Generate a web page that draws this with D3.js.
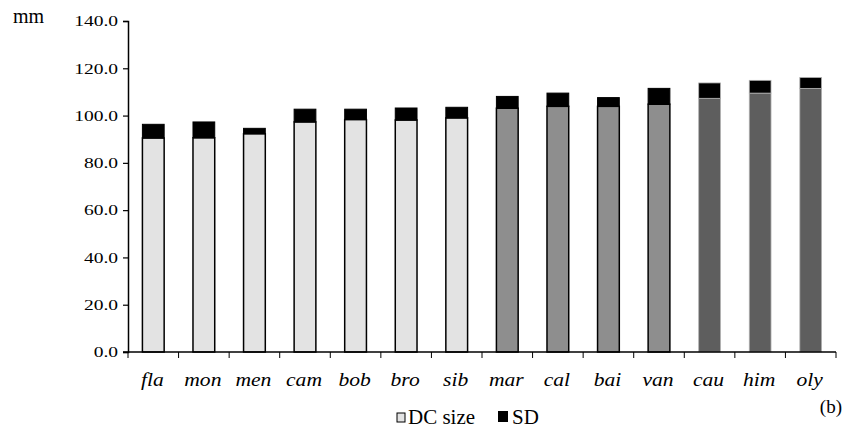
<!DOCTYPE html>
<html>
<head>
<meta charset="utf-8">
<script src="https://cdn.jsdelivr.net/npm/d3@7/dist/d3.min.js"></script>
<style>
  html, body { margin: 0; padding: 0; background: #fff; }
  svg { display: block; }
</style>
</head>
<body>
<svg id="chart" width="861" height="428"></svg>
<script>
const categories = ["fla", "mon", "men", "cam", "bob", "bro", "sib", "mar", "cal", "bai", "van", "cau", "him", "oly"];
const dcSize = [90.5, 90.6, 92.3, 97.3, 98.3, 98.1, 99.0, 103.1, 103.9, 103.9, 104.8, 107.3, 109.5, 111.5];
const sd = [5.8, 6.7, 2.3, 5.4, 4.4, 5.1, 4.5, 5.0, 5.6, 3.7, 6.7, 6.5, 5.4, 4.6];
const groupOf = [0, 0, 0, 0, 0, 0, 0, 1, 1, 1, 1, 2, 2, 2];
const yTicks = [0, 20, 40, 60, 80, 100, 120, 140];
const legendLabels = ["DC size", "SD"];

const FONT = "Liberation Serif";
const groupFill = ["#e3e3e3", "#8e8e8e", "#5e5e5e"];
const groupStroke = ["#000", "#000", "#b0b0b0"];

const svg = d3.select("#chart");

const y = d3.scaleLinear().domain([0, 140]).range([352, 21]);
const x = d3.scaleBand().domain(categories).range([128, 836]).paddingInner(0.57).paddingOuter(0.285);

// Y axis
const yAxis = d3.axisLeft(y).tickValues(yTicks).tickFormat(d3.format(".1f")).tickSizeOuter(0).tickSize(5).tickPadding(5);
const gy = svg.append("g").attr("transform", "translate(128,0)").call(yAxis);
gy.attr("font-family", FONT).attr("font-size", 15);
gy.select(".domain").attr("stroke", "#000").attr("stroke-width", 1.5);
gy.selectAll(".tick line").attr("stroke", "#000").attr("stroke-width", 1.2);
gy.selectAll(".tick text")
  .attr("font-family", FONT)
  .attr("font-size", 15)
  .attr("fill", "#000")
  .attr("x", 0).attr("dx", null)
  .attr("text-anchor", "end")
  .attr("transform", "translate(-10,0) scale(1.3,1)");

const data = categories.map((c, i) => ({ c, dc: dcSize[i], sd: sd[i], g: groupOf[i] }));

svg.append("g").selectAll("rect.dc").data(data).join("rect")
  .attr("class", "dc")
  .attr("x", d => x(d.c))
  .attr("width", x.bandwidth())
  .attr("y", d => y(d.dc))
  .attr("height", d => y(0) - y(d.dc))
  .attr("fill", d => groupFill[d.g])
  .attr("stroke", d => groupStroke[d.g])
  .attr("stroke-width", d => d.g === 2 ? 0.8 : 1.5);

svg.append("g").selectAll("rect.sd").data(data).join("rect")
  .attr("class", "sd")
  .attr("x", d => x(d.c))
  .attr("width", x.bandwidth())
  .attr("y", d => y(d.dc + d.sd))
  .attr("height", d => y(d.dc) - y(d.dc + d.sd))
  .attr("fill", "#000")
  .attr("stroke", d => d.g === 2 ? "#b0b0b0" : "#000")
  .attr("stroke-width", d => d.g === 2 ? 0.8 : 1);

// X axis
const gx = svg.append("g");
gx.append("line").attr("x1", 123).attr("x2", 836).attr("y1", y(0)).attr("y2", y(0))
  .attr("stroke", "#000").attr("stroke-width", 1.5);
const bounds = categories.map(c => x(c) + x.bandwidth() / 2 - x.step() / 2);
bounds.push(x(categories[categories.length - 1]) + x.bandwidth() / 2 + x.step() / 2);
gx.selectAll("line.t").data(bounds).join("line")
  .attr("class", "t")
  .attr("x1", d => d).attr("x2", d => d)
  .attr("y1", y(0)).attr("y2", y(0) + 6)
  .attr("stroke", "#000").attr("stroke-width", 1);
gx.selectAll("text.cat").data(categories).join("text")
  .attr("class", "cat")
  .attr("text-anchor", "middle")
  .attr("transform", d => `translate(${x(d) + x.bandwidth() / 2 - 1},386) scale(1.2,1)`)
  .attr("font-family", FONT)
  .attr("font-size", 18)
  .attr("font-style", "italic")
  .text(d => d);

svg.append("text").attr("x", 13).attr("y", 23).attr("font-family", FONT).attr("font-size", 20).text("mm");

svg.append("text").attr("x", 842).attr("y", 413).attr("text-anchor", "end")
  .attr("font-family", FONT).attr("font-size", 19).text("(b)");

const lg = svg.append("g");
lg.append("rect").attr("x", 397).attr("y", 413).attr("width", 8).attr("height", 9)
  .attr("fill", "#e3e3e3").attr("stroke", "#000").attr("stroke-width", 1);
lg.append("text").attr("x", 408).attr("y", 424).attr("font-family", FONT).attr("font-size", 21).text(legendLabels[0]);
lg.append("rect").attr("x", 498).attr("y", 411).attr("width", 10).attr("height", 11).attr("fill", "#000");
lg.append("text").attr("x", 512).attr("y", 424).attr("font-family", FONT).attr("font-size", 21).text(legendLabels[1]);
</script>
</body>
</html>
